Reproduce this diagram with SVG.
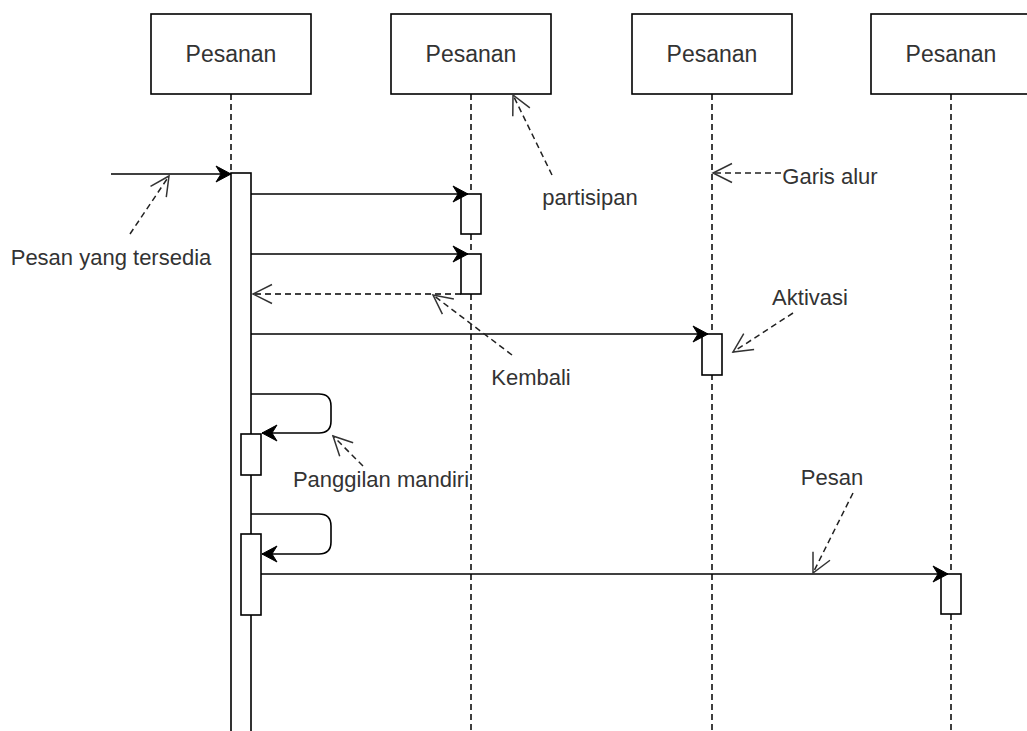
<svg xmlns="http://www.w3.org/2000/svg" width="1027" height="731" viewBox="0 0 1027 731">
  <style>
    .box { fill: #ffffff; stroke: #000000; stroke-width: 1.6; }
    .act { fill: #ffffff; stroke: #000000; stroke-width: 1.6; }
    .life { fill: none; stroke: #000000; stroke-width: 1.5; stroke-dasharray: 6 4; }
    .msg { fill: none; stroke: #000000; stroke-width: 1.6; marker-end: url(#classic); }
    .ret { fill: none; stroke: #000000; stroke-width: 1.5; stroke-dasharray: 6 4; marker-end: url(#open); }
    .note { fill: none; stroke: #222222; stroke-width: 1.5; stroke-dasharray: 6 4; marker-end: url(#open); }
    .label { font-family: "Liberation Sans", Arial, sans-serif; font-size: 23px; fill: #333333; text-anchor: middle; }
    .txt { font-family: "Liberation Sans", Arial, sans-serif; font-size: 22px; fill: #333333; text-anchor: middle; }
  </style>
  <defs>
    <marker id="classic" markerUnits="userSpaceOnUse" viewBox="-18 -10 20 20" refX="0" refY="0" markerWidth="20" markerHeight="20" orient="auto">
      <path d="M0,0 L-15,-8 L-10,0 L-15,8 Z" fill="#000000" stroke="#000000" stroke-width="1" stroke-linejoin="miter"/>
    </marker>
    <marker id="open" markerUnits="userSpaceOnUse" viewBox="-22 -12 24 24" refX="0" refY="0" markerWidth="24" markerHeight="24" orient="auto">
      <path d="M-19,-9.5 L0,0 L-19,9.5" fill="none" stroke="#333333" stroke-width="1.5"/>
    </marker>
  </defs>

  <rect x="0" y="0" width="1027" height="731" fill="#ffffff"/>

  <!-- participant 1 -->
  <g id="participant1">
    <rect class="box" x="151" y="14" width="160" height="80"/>
    <text class="label" x="231" y="62">Pesanan</text>
    <line class="life" x1="231" y1="94" x2="231" y2="173"/>
    <rect class="act" x="231" y="173" width="20" height="600"/>
    <rect class="act" x="241" y="434" width="20" height="41"/>
    <rect class="act" x="241" y="534" width="20" height="81"/>
  </g>

  <!-- participant 2 -->
  <g id="participant2">
    <rect class="box" x="391" y="14" width="160" height="80"/>
    <text class="label" x="471" y="62">Pesanan</text>
    <line class="life" x1="471" y1="94" x2="471" y2="731"/>
    <rect class="act" x="461" y="194" width="20" height="40"/>
    <rect class="act" x="461" y="254" width="20" height="40"/>
  </g>

  <!-- participant 3 -->
  <g id="participant3">
    <rect class="box" x="632" y="14" width="160" height="80"/>
    <text class="label" x="712" y="62">Pesanan</text>
    <line class="life" x1="712" y1="94" x2="712" y2="731"/>
    <rect class="act" x="702" y="334" width="20" height="41"/>
  </g>

  <!-- participant 4 -->
  <g id="participant4">
    <rect class="box" x="871" y="14" width="160" height="80"/>
    <text class="label" x="951" y="62">Pesanan</text>
    <line class="life" x1="951" y1="94" x2="951" y2="731"/>
    <rect class="act" x="941" y="574" width="20" height="40"/>
  </g>

  <!-- messages -->
  <g id="connectors">
    <line class="msg" x1="111" y1="174" x2="231" y2="174"/>
    <line class="msg" x1="251" y1="194" x2="468" y2="194"/>
    <line class="msg" x1="251" y1="254" x2="468" y2="254"/>
    <line class="ret" x1="461" y1="294" x2="253" y2="294"/>
    <line class="msg" x1="251" y1="334" x2="708" y2="334"/>
    <path class="msg" d="M251,394 H319 Q331,394 331,406 V421 Q331,433 319,433 H262"/>
    <path class="msg" d="M251,514 H319 Q331,514 331,526 V542 Q331,554 319,554 H262"/>
    <line class="msg" x1="261" y1="574" x2="948" y2="574"/>
  </g>

  <!-- annotations -->
  <g id="annotations">
    <line class="note" x1="130" y1="234" x2="169" y2="176"/>
    <text class="txt" x="111" y="265">Pesan yang tersedia</text>

    <line class="note" x1="552" y1="175" x2="513" y2="95"/>
    <text class="txt" x="590" y="205">partisipan</text>

    <line class="note" x1="512" y1="355" x2="433" y2="295"/>
    <text class="txt" x="531" y="385">Kembali</text>

    <line class="note" x1="781" y1="173" x2="713" y2="173"/>
    <text class="txt" x="830" y="184">Garis alur</text>

    <line class="note" x1="793" y1="313" x2="733" y2="352"/>
    <text class="txt" x="810" y="305">Aktivasi</text>

    <line class="note" x1="363" y1="466" x2="333" y2="436"/>
    <text class="txt" x="381" y="487">Panggilan mandiri</text>

    <line class="note" x1="853" y1="493" x2="813" y2="573"/>
    <text class="txt" x="832" y="485">Pesan</text>
  </g>
</svg>
